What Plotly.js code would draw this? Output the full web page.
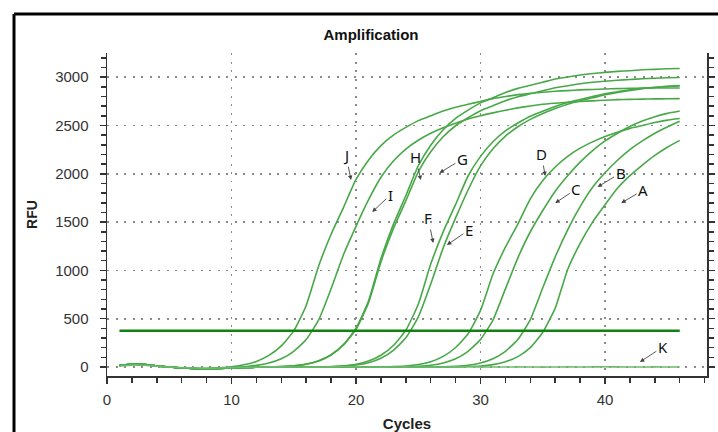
<!DOCTYPE html>
<html>
<head>
<meta charset="utf-8">
<script src="https://cdn.plot.ly/plotly-3.0.1.min.js"></script>
<style>html,body{margin:0;padding:0;background:#fff;}#chart{width:718px;height:432px;}</style>
</head>
<body>
<div id="chart"></div>
<script>
const cycles = [1,2,3,4,5,6,7,8,9,10,11,12,13,14,15,16,17,18,19,20,21,22,23,24,25,26,27,28,29,30,31,32,33,34,35,36,37,38,39,40,41,42,43,44,45,46];

const sampleJ = [15,28,25,12,0,-10,-16,-18,-10,2,23,58,120,219,374,637,1046,1374,1653,1942,2141,2291,2400,2480,2550,2600,2649,2689,2719,2749,2778,2799,2819,2834,2844,2854,2861,2868,2873,2878,2881,2884,2886,2887,2888,2888];
const sampleI = [15,28,25,12,0,-10,-16,-18,-15,-8,3,17,42,86,163,285,487,810,1164,1456,1729,1964,2132,2256,2347,2419,2476,2524,2567,2601,2630,2658,2682,2702,2719,2730,2740,2748,2755,2761,2767,2770,2773,2775,2776,2778];
const sampleH = [15,28,25,12,0,-10,-16,-18,-15,-10,-5,-2,0,5,13,30,64,128,235,401,684,1121,1476,1773,2083,2296,2456,2574,2659,2734,2787,2841,2884,2916,2948,2980,3001,3022,3038,3049,3060,3067,3076,3081,3087,3090];
const sampleG = [15,28,25,12,0,-10,-16,-18,-15,-10,-5,-2,0,5,12,29,62,124,228,389,663,1088,1432,1720,2020,2227,2383,2497,2580,2652,2704,2756,2797,2828,2859,2890,2911,2932,2947,2958,2968,2975,2984,2989,2994,2997];
const sampleF = [15,28,25,12,0,-10,-16,-18,-15,-10,-5,-2,0,0,0,0,0,5,12,28,61,122,223,380,649,1065,1399,1683,1977,2180,2332,2444,2525,2596,2647,2697,2738,2768,2799,2829,2849,2870,2885,2895,2905,2912];
const sampleE = [15,28,25,12,0,-10,-16,-18,-15,-10,-5,-2,0,0,0,0,0,2,8,20,45,91,173,302,516,858,1233,1543,1832,2081,2258,2390,2487,2563,2624,2675,2720,2756,2786,2817,2842,2862,2881,2893,2903,2911];
const sampleD = [15,28,25,12,0,-10,-16,-18,-15,-10,-5,-2,0,0,0,0,0,0,0,0,0,0,5,11,26,55,110,202,344,586,962,1240,1480,1740,1930,2070,2180,2265,2330,2385,2430,2470,2500,2530,2555,2572];
const sampleC = [15,28,25,12,0,-10,-16,-18,-15,-10,-5,-2,0,0,0,0,0,0,0,0,0,0,0,2,8,19,42,86,163,285,486,809,1130,1400,1620,1820,1980,2120,2240,2340,2420,2490,2545,2590,2625,2650];
const sampleB = [15,28,25,12,0,-10,-16,-18,-15,-10,-5,-2,0,0,0,0,0,0,0,0,0,0,0,0,0,0,2,8,19,42,86,163,285,490,820,1140,1420,1660,1860,2010,2140,2250,2340,2420,2485,2543];
const sampleA = [15,28,25,12,0,-10,-16,-18,-15,-10,-5,-2,0,0,0,0,0,0,0,0,0,0,0,0,0,0,0,0,5,11,25,54,108,200,360,610,1010,1280,1500,1680,1850,1980,2090,2190,2275,2346];
const sampleK = [10,20,18,8,0,-6,-10,-12,-10,-6,-3,-1,2,1,0,-1,0,1,2,1,0,-1,0,1,0,-1,0,1,2,1,0,0,1,0,-1,0,1,0,1,2,1,0,0,1,0,0];
const thresholdRFU = 375;

const seriesNames = ['A','B','C','D','E','F','G','H','I','J','K'];
const seriesValues = [sampleA,sampleB,sampleC,sampleD,sampleE,sampleF,sampleG,sampleH,sampleI,sampleJ,sampleK];

// label letter, arrow tip (cycle, RFU), text offset (px)
const labelNames = ['J','I','H','G','F','E','D','C','B','A','K'];
const labelTipCycle = [19.6,21.3,25.2,26.7,26.2,27.3,35.2,36.0,39.4,41.3,42.8];
const labelTipRFU = [1935,1604,1935,2008,1283,1263,1977,1697,1863,1697,52];
const labelDx = [-5,18,-5,23,-5,22,-4,21,23,22,23];
const labelDy = [-25,-17,-23,-14,-25,-15,-22,-14,-14,-13,-15];

const curveColor = '#48a848';
const traces = seriesNames.map((n,i)=>({
  x: cycles, y: seriesValues[i], type:'scatter', mode:'lines', name:n,
  line:{color: n==='K' ? '#6dbb6d' : curveColor, width:1.6, shape:'spline', smoothing:0.5},
  hoverinfo:'skip', showlegend:false
}));
traces.push({
  x:[cycles[0], cycles[cycles.length-1]], y:[thresholdRFU, thresholdRFU],
  type:'scatter', mode:'lines', line:{color:'#11820f', width:2.6},
  hoverinfo:'skip', showlegend:false
});

const annotations = labelNames.map((t,i)=>({
  x: labelTipCycle[i], y: labelTipRFU[i], xref:'x', yref:'y',
  text: t, showarrow:true, ax: labelDx[i], ay: labelDy[i],
  arrowhead:2, arrowsize:1, arrowwidth:0.9, arrowcolor:'#444', standoff:0,
  font:{family:'Noto Sans, Open Sans, sans-serif', size:15, color:'#111'}
}));

const font = 'Liberation Sans, Arial, sans-serif';
const layout = {
  width:718, height:432,
  margin:{l:107, r:11, t:53, b:56},
  paper_bgcolor:'#fff', plot_bgcolor:'#fff',
  title:{text:'<b>Amplification</b>', x:371/718, xref:'container', xanchor:'center',
         y:1-35/432, yref:'container', yanchor:'middle',
         font:{family:font, size:15, color:'#111'}},
  xaxis:{range:[0,48.19], dtick:10, tick0:0, showline:true, linecolor:'#333', linewidth:1.5,
         mirror:false, ticks:'outside', ticklen:6, tickwidth:1.5, tickcolor:'#333',
         showgrid:true, gridcolor:'#8a8a8a', griddash:'2px,6.5px', gridwidth:1.6, zeroline:false,
         minor:{dtick:2, ticks:'outside', ticklen:5, tickcolor:'#333', showgrid:false},
         tickfont:{family:font, size:15, color:'#333'}, ticklabelstandoff:3,
         title:{text:'<b>Cycles</b>', font:{family:font, size:15, color:'#222'}, standoff:12}},
  xaxis2:{range:[0,48.19], dtick:10, tick0:0, overlaying:'x', side:'top', anchor:'y', matches:'x',
          showline:true, linecolor:'#555', linewidth:1.3, ticks:'inside', ticklen:5, tickwidth:1.3, tickcolor:'#333',
          minor:{dtick:2, ticks:'inside', ticklen:4, tickcolor:'#333', showgrid:false},
          showgrid:false, zeroline:false, showticklabels:false},
  yaxis:{range:[-93,3250], dtick:500, tick0:0, showline:true, linecolor:'#333', linewidth:1.5,
         mirror:'ticks', ticks:'outside', ticklen:6, tickwidth:1.5, tickcolor:'#333',
         showgrid:true, gridcolor:'#8a8a8a', griddash:'2px,6.5px', gridwidth:1.6, zeroline:false,
         minor:{dtick:100, ticks:'outside', ticklen:5, tickcolor:'#333', showgrid:false},
         tickfont:{family:font, size:15, color:'#333'}, ticklabelstandoff:8,
         title:{text:'<b>RFU</b>', font:{family:font, size:14, color:'#222'}, standoff:14}},
  annotations: annotations,
  shapes:[
    {type:'line', xref:'paper', yref:'paper', x0:(14-107)/600, x1:(720-107)/600, y0:(376-14)/323, y1:(376-14)/323, line:{color:'#000', width:3}},
    {type:'line', xref:'paper', yref:'paper', x0:(14-107)/600, x1:(14-107)/600, y0:(376-14)/323, y1:(376-440)/323, line:{color:'#000', width:3}}
  ]
};
Plotly.newPlot('chart', traces, layout, {staticPlot:true, displayModeBar:false});
</script>
</body>
</html>
